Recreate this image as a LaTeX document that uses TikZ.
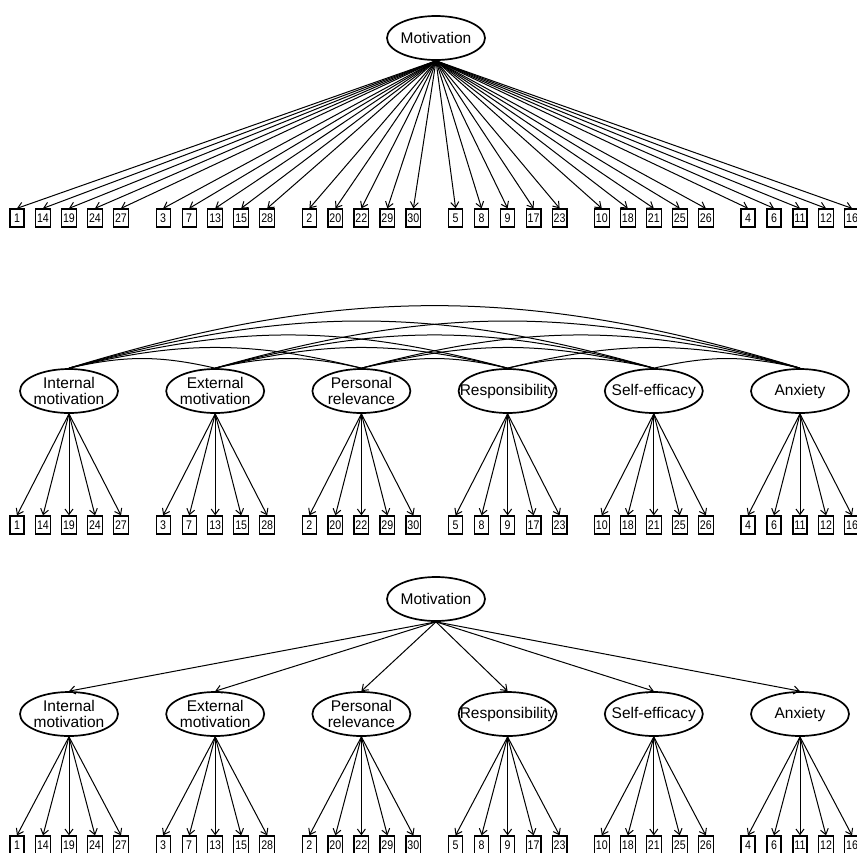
\documentclass[tikz,border=0pt]{standalone}
\usepackage{fontspec}
\setmainfont{Liberation Sans}
\usepackage{tikz}
\usetikzlibrary{positioning,
                arrows.meta,                % arrow tips
                shapes.geometric}           % ellipse

% indicator numbers of each factor
\def\itemlists{{1,14,19,24,27},{3,7,13,15,28},{2,20,22,29,30},{5,8,9,17,23},{10,18,21,25,26},{4,6,11,12,16}}

\tikzset{
  latent/.style={draw, ellipse, line width=1.7pt, minimum width=98pt, minimum height=44pt,
                 inner xsep=-16pt, inner ysep=0pt, align=center,
                 font=\fontsize{15.5}{16}\selectfont},
  manifest/.style={draw, rectangle, line width=1.3pt, minimum width=14pt, minimum height=18pt,
                   inner xsep=1.5pt, inner ysep=0pt, font=\fontsize{12.5}{13}\selectfont},
  load/.style={-{Straight Barb[length=5.5pt,width=8pt]}, line width=1pt},
  cov/.style={line width=1pt}
}

\begin{document}
\begin{tikzpicture}[x=1pt, y=-1pt]
        \useasboundingbox (0,0) rectangle (857,852);

        % one factor model
        \node[latent] (mA) at (436,38) {Motivation};
        \foreach \items [count=\f] in \itemlists
        {
            \foreach \itm [count=\j] in \items
            {
                \node[manifest] (a\f\j) at ({69+146.2*(\f-1)+26*(\j-3)},218) {\scalebox{0.85}[1]{\itm}};
                \draw[load] (mA.south) -- (a\f\j.north);
            }
        }

        % six correlated factors
        \foreach \lbl [count=\f] in {{Internal\\motivation},{External\\motivation},{Personal\\relevance},Responsibility,Self-efficacy,Anxiety}
        {
            \node[latent] (b\f) at ({69+146.2*(\f-1)},391) {\lbl};
        }
        \foreach \items [count=\f] in \itemlists
        {
            \foreach \itm [count=\j] in \items
            {
                \node[manifest] (bb\f\j) at ({69+146.2*(\f-1)+26*(\j-3)},525) {\scalebox{0.85}[1]{\itm}};
                \draw[load] (b\f.south) -- (bb\f\j.north);
            }
        }
        \foreach \i in {1,...,5}
        {
            \pgfmathtruncatemacro\k{\i+1}
            \foreach \j in {\k,...,6}
            {
                \pgfmathsetmacro\ang{12+(\j-\i)}
                \draw[cov] (b\i.north) to[bend left=\ang] (b\j.north);
            }
        }

        % second order model
        \node[latent] (mC) at (436,599) {Motivation};
        \foreach \lbl [count=\f] in {{Internal\\motivation},{External\\motivation},{Personal\\relevance},Responsibility,Self-efficacy,Anxiety}
        {
            \node[latent] (c\f) at ({69+146.2*(\f-1)},714) {\lbl};
            \draw[load] (mC.south) -- (c\f.north);
        }
        \foreach \items [count=\f] in \itemlists
        {
            \foreach \itm [count=\j] in \items
            {
                \node[manifest] (cc\f\j) at ({69+146.2*(\f-1)+26*(\j-3)},845) {\scalebox{0.85}[1]{\itm}};
                \draw[load] (c\f.south) -- (cc\f\j.north);
            }
        }
\end{tikzpicture}
\end{document}
